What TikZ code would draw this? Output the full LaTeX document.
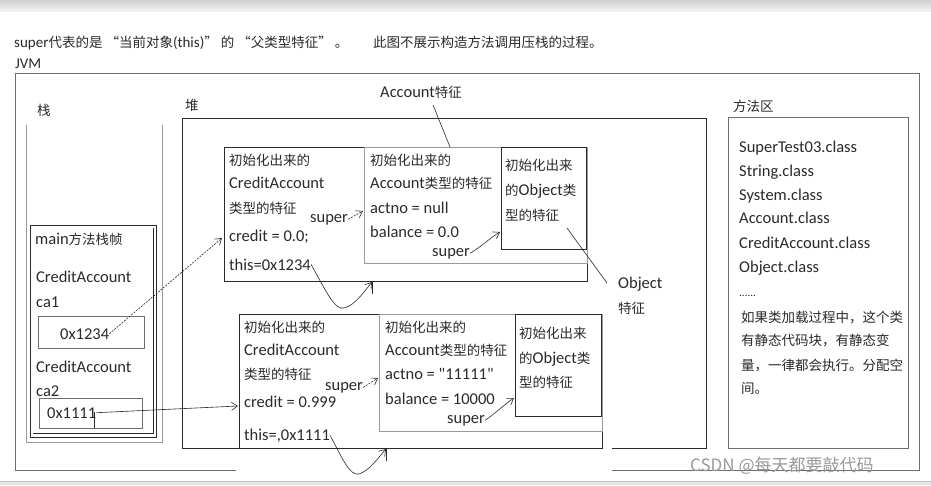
\documentclass[tikz,border=0pt]{standalone}
\usepackage{fontspec}
\setmainfont{Carlito}
\newfontfamily\cjkf{Noto Sans CJK SC}
\usetikzlibrary{arrows.meta}
\newcommand\zh[1]{{\cjkf\fontsize{13.5}{16}\selectfont #1}}
\definecolor{ink}{HTML}{2A2A2A}
\definecolor{mid}{HTML}{6E6E6E}
\definecolor{light}{HTML}{9A9A9A}
\begin{document}
\begin{tikzpicture}[x=1pt,y=-1pt,
  txt/.style={anchor=base west, inner sep=0pt, text=ink, font=\fontsize{16.5}{18}\selectfont},
  small/.style={txt, font=\fontsize{15}{17}\selectfont},
  box/.style={draw=ink, line width=0.9pt},
  gbox/.style={draw=mid, line width=0.8pt},
  lbox/.style={draw=light, line width=0.9pt},
  arr/.style={-{Straight Barb[length=6pt,width=8pt]}, draw=ink, line width=0.6pt},
  darr/.style={arr, dash pattern=on 2pt off 1.2pt},
  thin/.style={draw=ink, line width=0.6pt}]
\useasboundingbox (0,0) rectangle (931,485);
\fill[white] (0,0) rectangle (931,485);
% top and bottom bars
\shade[top color=black!18, bottom color=black!5] (0,0) rectangle (931,11);
\fill[black!10] (0,481) rectangle (931,485);
\draw[black!25, line width=0.5pt] (0,481) -- (931,481);

% title
\node[small] (t1) at (14,47) {super\zh{代表的是 “当前对象}(this)\zh{” 的 “父类型特征” 。}};
\node[small] (t2) at (373,47) {\zh{此图不展示构造方法调用压栈的过程。}};
\node[small] (jvm) at (15,68) {JVM};

% JVM frame
\draw[gbox] (236,470) -- (15,470) -- (15,73) -- (919,73) -- (919,470) -- (612,470);

% stack
\node[txt] (zhan) at (37,115) {\zh{栈}};
\draw[lbox] (26,125) -- (26,442) -- (162,442) -- (162,125);
\draw[box] (30,225) rectangle (156,437);
\draw[box, line width=0.6pt] (153,228) -- (153,433) -- (33,433);
\node[txt] (mf) at (35,244) {main\zh{方法栈帧}};
\node[txt] (ca1t) at (36,282) {CreditAccount};
\node[txt] (ca1) at (36,307) {ca1};
\draw[gbox] (38,316) rectangle (144,348);
\node[txt] (p1) at (60,339) {0x1234};
\node[txt] (ca2t) at (36,372) {CreditAccount};
\node[txt] (ca2) at (36,396) {ca2};
\draw[gbox] (39,398) rectangle (142,428);
\node[txt] (p2) at (47,418) {0x1111};
\coordinate (tick) at (94,428);

% heap
\node[txt] (dui) at (185,110) {\zh{堆}};
\draw[box] (239,448) -- (182,448) -- (182,118) -- (706,118) -- (706,448) -- (612,448);

% upper object
\draw[box] (224,147) rectangle (587,281);
\draw[lbox] (364,147) rectangle (587,263);
\draw[box] (501,147) rectangle (586,249);
\node[txt] (u1) at (229,165) {\zh{初始化出来的}};
\node[txt] (u2) at (229,188) {CreditAccount};
\node[txt] (u3) at (229,213) {\zh{类型的特征}};
\node[txt] (u4) at (229,241) {credit = 0.0;};
\node[txt] (u5) at (229,270) {this=0x1234};
\node[txt] (s1) at (310,222) {super};
\node[txt] (a1) at (370,165) {\zh{初始化出来的}};
\node[txt] (a2) at (370,188) {Account\zh{类型的特征}};
\node[txt] (a3) at (370,213) {actno = null};
\node[txt] (a4) at (370,237) {balance = 0.0};
\node[txt] (s2) at (432,256) {super};
\node[txt] (o1) at (505,170) {\zh{初始化出来}};
\node[txt] (o2) at (505,195) {\zh{的}Object\zh{类}};
\node[txt] (o3) at (505,220) {\zh{型的特征}};

% lower object
\draw[box] (239,314) rectangle (602,448);
\draw[lbox] (379,314) rectangle (602,431);
\draw[box] (515,314) rectangle (601,416);
\node[txt] (v1) at (244,332) {\zh{初始化出来的}};
\node[txt] (v2) at (244,355) {CreditAccount};
\node[txt] (v3) at (244,379) {\zh{类型的特征}};
\node[txt] (v4) at (244,407) {credit = 0.999};
\node[txt] (v5) at (244,440) {this=,0x1111};
\node[txt] (s3) at (325,390) {super};
\node[txt] (b1) at (385,332) {\zh{初始化出来的}};
\node[txt] (b2) at (385,355) {Account\zh{类型的特征}};
\node[txt] (b3) at (385,379) {actno = \textquotedbl 11111\textquotedbl};
\node[txt] (b4) at (385,404) {balance = 10000};
\node[txt] (s4) at (447,423) {super};
\node[txt] (q1) at (519,338) {\zh{初始化出来}};
\node[txt] (q2) at (519,363) {\zh{的}Object\zh{类}};
\node[txt] (q3) at (519,387) {\zh{型的特征}};

% annotations
\node[txt] (accf) at (380,97) {Account\zh{特征}};
\coordinate (accend) at (450,147);
\draw[thin] (433,105) -- (accend);
\node[txt] (objf1) at (618,288) {Object};
\node[txt] (objf2) at (618,313) {\zh{特征}};
\coordinate (objstart) at (567,228);
\draw[thin] (objstart) -- (607,283);

% method area
\node[txt] (ff) at (733,111) {\zh{方法区}};
\draw[gbox] (728,117) rectangle (908,448);
\node[txt] (m1) at (739,152) {SuperTest03.class};
\node[txt] (m2) at (739,176) {String.class};
\node[txt] (m3) at (739,200) {System.class};
\node[txt] (m4) at (739,223) {Account.class};
\node[txt] (m5) at (739,248) {CreditAccount.class};
\node[txt] (m6) at (739,272) {Object.class};
\node[txt, font=\fontsize{11}{12}\selectfont] (m7) at (739,296) {......};
\node[txt] (m8) at (741,322) {\zh{如果类加载过程中，这个类}};
\node[txt] (m9) at (741,345) {\zh{有静态代码块，有静态变}};
\node[txt] (m10) at (741,370) {\zh{量，一律都会执行。分配空}};
\node[txt] (m11) at (741,393) {\zh{间。}};

% connectors
\coordinate (h1) at (222,238);
\draw[darr] (p1.east) -- (h1);
\coordinate (h2) at (238,406);
\draw[arr] (p2.east) -- (h2);
\draw[thin] (94,412) -- (tick);
\coordinate (s1e) at (363,211);
\draw[darr] (s1.east) -- (s1e);
\coordinate (s2e) at (500,232);
\draw[arr] (s2.east) .. controls (482,246) and (490,238) .. (s2e);
\coordinate (s3e) at (378,378);
\draw[darr] (s3.east) -- (s3e);
\coordinate (s4e) at (514,398);
\draw[arr] (s4.east) .. controls (497,412) and (505,404) .. (s4e);
\coordinate (r1) at (372,282);
\draw[arr] (u5.east) .. controls (328,295) and (335,310) .. (344,308) .. controls (354,306) and (364,292) .. (r1);
\draw[thin] (372,282) -- (372,294);
\coordinate (r2) at (386,449);
\draw[arr] (v5.east) .. controls (343,460) and (350,476) .. (359,474) .. controls (369,471) and (378,458) .. (r2);
\draw[thin] (386,449) -- (386,461);

% watermark
\node[anchor=base west, inner sep=0pt, text=black!40, font=\cjkf\fontsize{17}{19}\selectfont] (wm) at (690,471) {CSDN @每天都要敲代码};
\end{tikzpicture}
\end{document}
